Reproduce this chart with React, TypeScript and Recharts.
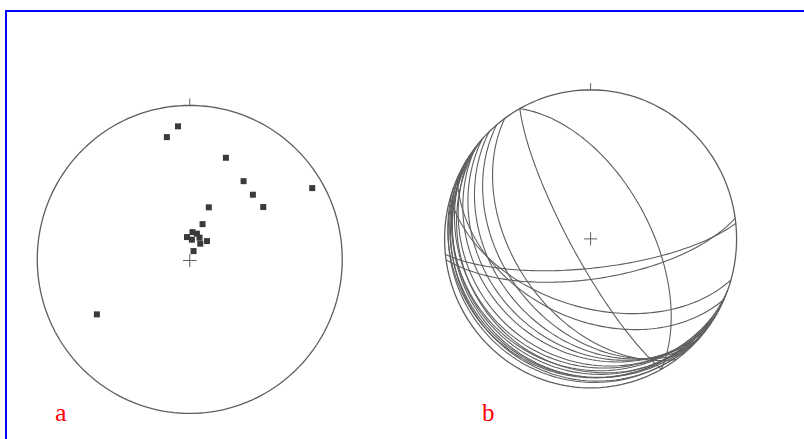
import React from 'react';
import { ScatterChart, Scatter, XAxis, YAxis, ReferenceLine } from 'recharts';

const poleX = [-0.15, -0.077, 0.237, 0.353, 0.414, 0.482, 0.803, 0.125, 0.084, 0.018, 0.047, -0.018, 0.014, 0.064, 0.113, 0.069, 0.025, -0.609];
const poleY = [0.794, 0.864, 0.66, 0.508, 0.42, 0.34, 0.463, 0.338, 0.229, 0.177, 0.167, 0.145, 0.128, 0.141, 0.119, 0.102, 0.054, -0.357];

// b: planes as dip direction / dip, degrees
const dipDirs = [241, 61, 174, 172, 234, 230, 226, 222, 218, 204, 196, 215, 210, 220, 205, 212, 218, 208, 200, 222, 214];
const dips = [79, 57, 74, 68, 47, 40, 34, 29, 25, 45, 52, 20, 17, 15, 14, 12, 10, 9, 8, 7, 5];

const rad = Math.PI / 180;
const LINE = '#5e5e5e';

// lower hemisphere, equal area: unit vector (east, north, down) -> net x/y
const project = (e: number, n: number, d: number) => {
  const k = 1 / Math.sqrt(1 + d);
  return { x: e * k, y: n * k };
};

const greatCircle = (dd: number, dip: number) => {
  const st = (dd - 90) * rad;
  const s = [Math.sin(st), Math.cos(st), 0];
  const v = [Math.sin(dd * rad) * Math.cos(dip * rad), Math.cos(dd * rad) * Math.cos(dip * rad), Math.sin(dip * rad)];
  const pts = [];
  for (let a = 0; a <= 180; a += 2) {
    const c = Math.cos(a * rad);
    const sn = Math.sin(a * rad);
    pts.push(project(c * s[0] + sn * v[0], c * s[1] + sn * v[1], c * s[2] + sn * v[2]));
  }
  return pts;
};

const primitive = (() => {
  const pts = [];
  for (let a = 0; a <= 360; a += 2) pts.push({ x: Math.sin(a * rad), y: Math.cos(a * rad) });
  return pts;
})();

const poles = poleX.map((x, i) => ({ x, y: poleY[i] }));
const planes = dipDirs.map((dd, i) => greatCircle(dd, dips[i]));

const noDot = () => <g />;
const poleDot = (p: any) => <rect x={p.cx - 3} y={p.cy - 3} width={6} height={6} fill="#3a3a3a" />;
const margin = { top: 0, right: 0, bottom: 0, left: 0 };

const netParts = (key: string) => [
  <XAxis key={key + 'x'} type="number" dataKey="x" domain={[-1.1, 1.1]} hide allowDataOverflow />,
  <YAxis key={key + 'y'} type="number" dataKey="y" domain={[-1.1, 1.1]} hide allowDataOverflow />,
];

const App = () => {
  return (
    <div style={{ position: 'absolute', left: 0, top: 0, width: 804, height: 439, background: '#fff', overflow: 'hidden' }}>
      <div style={{ position: 'absolute', left: 5, top: 10, width: 820, height: 460, borderTop: '2px solid #0000ff', borderLeft: '2px solid #0000ff' }} />

      <div style={{ position: 'absolute', left: 21.75, top: 89.6 }}>
        <ScatterChart width={335.5} height={338.8} margin={margin}>
          {netParts('a')}
          <Scatter data={primitive} line={{ stroke: LINE, strokeWidth: 1.3 }} lineType="joint" shape={noDot} isAnimationActive={false} />
          <ReferenceLine segment={[{ x: 0, y: 1 }, { x: 0, y: 1.045 }]} stroke={LINE} />
          <ReferenceLine segment={[{ x: -0.045, y: -0.007 }, { x: 0.045, y: -0.007 }]} stroke={LINE} />
          <ReferenceLine segment={[{ x: 0, y: -0.05 }, { x: 0, y: 0.036 }]} stroke={LINE} />
          <Scatter data={poles} shape={poleDot} isAnimationActive={false} />
        </ScatterChart>
      </div>

      <div style={{ position: 'absolute', left: 430.4, top: 74.6 }}>
        <ScatterChart width={321.2} height={327.8} margin={margin}>
          {netParts('b')}
          <Scatter data={primitive} line={{ stroke: LINE, strokeWidth: 1.3 }} lineType="joint" shape={noDot} isAnimationActive={false} />
          <ReferenceLine segment={[{ x: 0, y: 1 }, { x: 0, y: 1.045 }]} stroke={LINE} />
          <ReferenceLine segment={[{ x: -0.045, y: 0 }, { x: 0.045, y: 0 }]} stroke={LINE} />
          <ReferenceLine segment={[{ x: 0, y: -0.045 }, { x: 0, y: 0.045 }]} stroke={LINE} />
          {planes.map((pts, i) => (
            <Scatter key={i} data={pts} line={{ stroke: LINE, strokeWidth: 1.1 }} lineType="joint" shape={noDot} isAnimationActive={false} />
          ))}
        </ScatterChart>
      </div>

      <div style={{ position: 'absolute', left: 55, top: 398, fontFamily: '"Liberation Serif", serif', fontSize: 26, color: '#ff0000', lineHeight: '30px' }}>a</div>
      <div style={{ position: 'absolute', left: 482, top: 398, fontFamily: '"Liberation Serif", serif', fontSize: 25, color: '#ff0000', lineHeight: '30px' }}>b</div>
    </div>
  );
};

export default App;
